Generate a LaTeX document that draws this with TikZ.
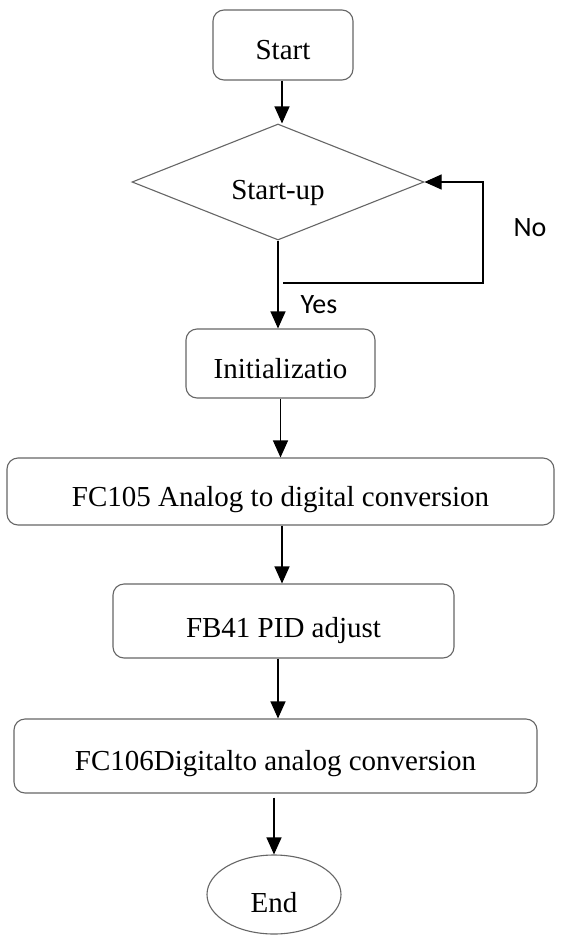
\documentclass[tikz,border=0pt]{standalone}
\usepackage{fontspec}
\setmainfont{Liberation Serif}
\newfontfamily\labelfont{Carlito}
\usetikzlibrary{shapes.geometric,arrows.meta}
\begin{document}
\begin{tikzpicture}[x=1pt,y=-1pt,
  base/.style={draw=black!60, line width=1.1pt, inner sep=0pt,
    font=\fontsize{29}{34}\selectfont, text depth=0pt, text height=29pt},
  box/.style={base, rectangle, rounded corners=11pt},
  decision/.style={base, diamond, aspect=2.517, minimum width=292pt, minimum height=116pt, text height=35pt},
  terminal/.style={base, ellipse, text height=35pt},
  arr/.style={draw=black, line width=1.1pt, -{Triangle[length=17pt,width=15pt]}},
  lbl/.style={font=\labelfont\fontsize{28}{32}\selectfont, inner sep=0pt}]
\useasboundingbox[fill=white] (0,0) rectangle (560,935);

\node[box, minimum width=140pt, minimum height=70pt] (start) at (283,45) {Start};
\node[decision] (dia) at (278,182) {Start-up};
\node[box, minimum width=189pt, minimum height=69pt] (init) at (280.5,363.5) {Initializatio};
\node[box, minimum width=547pt, minimum height=67pt] (fc105) at (280.5,491.5) {FC105 Analog to digital conversion};
\node[box, minimum width=341pt, minimum height=74pt, text height=33pt] (fb41) at (283.5,621) {FB41 PID adjust};
\node[box, minimum width=523pt, minimum height=74pt] (fc106) at (275.5,756) {FC106Digitalto analog conversion};
\node[terminal, minimum width=134pt, minimum height=79pt] (end) at (274,894.5) {End};

\coordinate (loopstart) at (283,283);
\coordinate (loopcorner) at (483,283);

\draw[arr] (start.south -| 282,0) -- (dia.north -| 282,0);
\draw[arr] (dia.south) -- (init.north -| dia.south);
\draw[arr] (loopstart) -- (loopcorner) |- (dia.east);
\draw[arr] (init.south) -- (fc105.north);
\draw[arr] (fc105.south -| 282,0) -- (fb41.north -| 282,0);
\draw[arr] (fb41.south -| 278,0) -- (fc106.north -| 278,0);
\draw[arr, shorten <=4pt] (fc106.south -| end.north) -- (end.north);

\node[lbl] (no) at (530,228) {No};
\node[lbl] (yes) at (319,305) {Yes};
\end{tikzpicture}
\end{document}
